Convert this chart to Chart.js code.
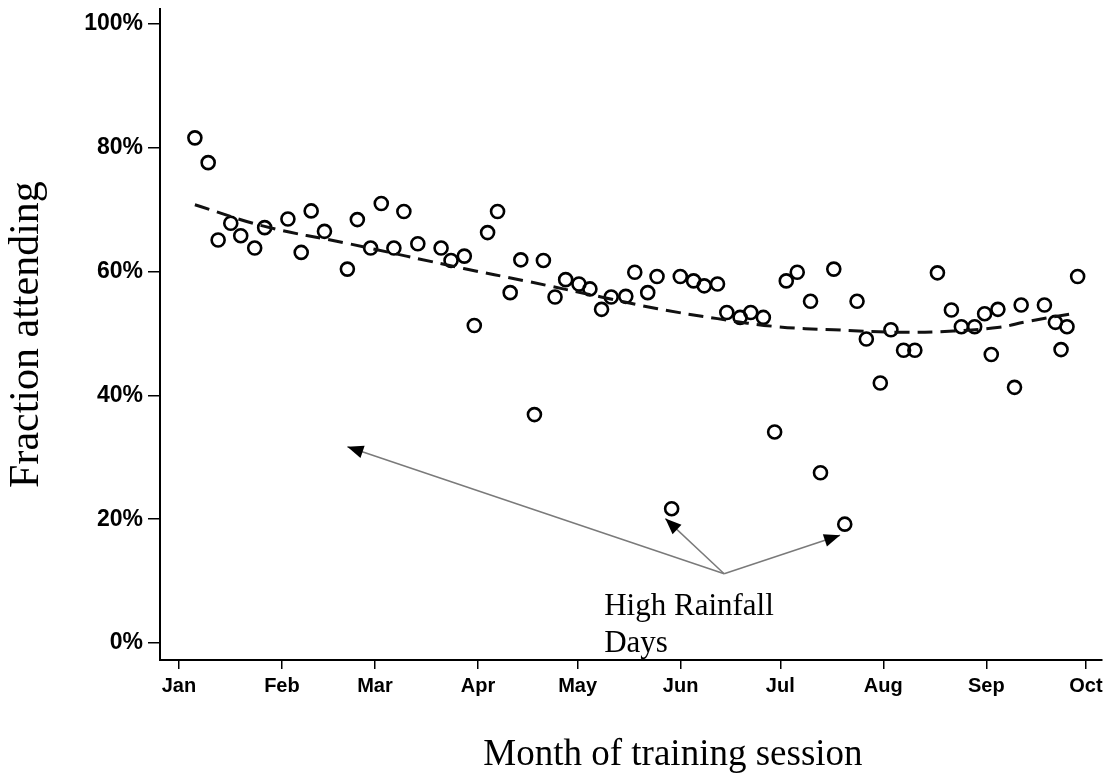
<!DOCTYPE html>
<html>
<head>
<meta charset="utf-8">
<script src="https://cdn.jsdelivr.net/npm/chart.js@4.4.1/dist/chart.umd.min.js"></script>
<style>
    body { margin: 0; background: #fff; }
    #grafico { display: block; }
</style>
</head>
<body>
<canvas id="grafico" width="1111" height="777"></canvas>
<script>
// dia do ano (0 = 1 Jan) de cada sessão e fração de presentes (%)
const sessionDays = [
    4.8, 8.8, 11.8, 15.6, 18.6, 22.8, 25.8, 32.8, 36.8, 39.8,
    43.8, 50.7, 53.7, 57.7, 60.9, 64.7, 67.7, 71.9, 78.9, 81.9,
    85.9, 88.9, 92.9, 95.9, 99.7, 102.9, 107.0, 109.7, 113.2, 116.4,
    120.4, 123.7, 127.2, 130.1, 134.5, 137.2, 141.1, 143.9, 148.3, 150.9,
    154.9, 158.1, 162.1, 164.9, 168.9, 172.1, 175.9, 179.3, 182.8, 186.1,
    190.1, 193.1, 197.1, 200.4, 204.1, 206.9, 211.1, 214.3, 218.1, 221.5,
    228.3, 232.5, 235.5, 239.5, 242.5, 244.5, 246.5, 251.5, 253.5, 260.5,
    263.8, 265.5, 267.3, 270.5
];
const attendancePct = [
    81.6, 77.6, 65.1, 67.8, 65.8, 63.8, 67.1, 68.5, 63.1, 69.8,
    66.5, 60.4, 68.4, 63.8, 71.0, 63.8, 69.7, 64.5, 63.8, 61.8,
    62.5, 51.3, 66.3, 69.7, 56.6, 61.9, 36.9, 61.8, 55.9, 58.7,
    58.0, 57.2, 53.9, 55.9, 56.0, 59.9, 56.6, 59.2, 21.7, 59.2,
    58.5, 57.7, 58.0, 53.4, 52.6, 53.4, 52.6, 34.1, 58.5, 59.9,
    55.2, 27.5, 60.4, 19.2, 55.2, 49.1, 42.0, 50.6, 47.3, 47.3,
    59.8, 53.8, 51.1, 51.1, 53.2, 46.6, 53.9, 41.3, 54.6, 54.6,
    51.8, 47.4, 51.1, 59.2
];

// curva de tendência tracejada
const trendDays = [4.8, 25.8, 51.2, 85.7, 104.2, 127.1, 144.1, 162.1, 180.1, 197.1, 217.0, 233.1, 247.0, 255.0, 270.0];
const trendPct = [70.8, 67.3, 64.5, 60.5, 58.5, 55.9, 54.0, 52.4, 51.1, 50.6, 50.2, 50.4, 51.0, 51.9, 53.3];

const monthStartDays = [0, 31, 59, 90, 120, 151, 181, 212, 243, 273];
const monthLabels = ['Jan', 'Feb', 'Mar', 'Apr', 'May', 'Jun', 'Jul', 'Aug', 'Sep', 'Oct'];
const yTickValues = [0, 20, 40, 60, 80, 100];

// anotação "High Rainfall Days" em unidades dos dados
const rainfallText = ['High Rainfall', 'Days'];
const rainfallTextAt = { x: 128, y: 4.5 };
const arrowFrom = { x: 164.1, y: 11.2 };
const arrowTargets = [
    { x: 50.7, y: 31.7 },
    { x: 146.4, y: 20.1 },
    { x: 199.0, y: 17.4 }
];

const serif = "'Liberation Serif', 'DejaVu Serif', serif";

const anotacaoPlugin = {
    id: 'anotacao',
    afterDraw(chart) {
        const ctx = chart.ctx;
        const xs = chart.scales.x;
        const ys = chart.scales.y;
        const ox = xs.getPixelForValue(arrowFrom.x);
        const oy = ys.getPixelForValue(arrowFrom.y);

        ctx.save();
        arrowTargets.forEach(t => {
            const tx = xs.getPixelForValue(t.x);
            const ty = ys.getPixelForValue(t.y);
            ctx.strokeStyle = '#7a7a7a';
            ctx.lineWidth = 1.5;
            ctx.beginPath();
            ctx.moveTo(ox, oy);
            ctx.lineTo(tx, ty);
            ctx.stroke();

            const ang = Math.atan2(ty - oy, tx - ox);
            const len = 16, half = 6.5;
            ctx.fillStyle = '#000';
            ctx.beginPath();
            ctx.moveTo(tx, ty);
            ctx.lineTo(tx - len * Math.cos(ang) + half * Math.sin(ang), ty - len * Math.sin(ang) - half * Math.cos(ang));
            ctx.lineTo(tx - len * Math.cos(ang) - half * Math.sin(ang), ty - len * Math.sin(ang) + half * Math.cos(ang));
            ctx.closePath();
            ctx.fill();
        });

        ctx.fillStyle = '#000';
        ctx.font = `31px ${serif}`;
        ctx.textAlign = 'left';
        ctx.textBaseline = 'alphabetic';
        const lx = xs.getPixelForValue(rainfallTextAt.x);
        const ly = ys.getPixelForValue(rainfallTextAt.y);
        ctx.fillText(rainfallText[0], lx, ly);
        ctx.fillText(rainfallText[1], lx, ly + 37);

        // título do eixo x, um pouco à direita do centro como no original
        const area = chart.chartArea;
        ctx.font = `37px ${serif}`;
        ctx.textAlign = 'center';
        ctx.fillText('Month of training session', (area.left + area.right) / 2 + 42, 765);
        ctx.restore();
    }
};

function montarGrafico() {
    const ctx = document.getElementById('grafico').getContext('2d');
    new Chart(ctx, {
        type: 'scatter',
        data: {
            datasets: [{
                type: 'line',
                data: trendDays.map((d, i) => ({ x: d, y: trendPct[i] })),
                borderColor: '#111',
                borderWidth: 3,
                borderDash: [15, 8],
                pointRadius: 0,
                tension: 0.4,
                fill: false
            }, {
                data: sessionDays.map((d, i) => ({ x: d, y: attendancePct[i] })),
                pointStyle: 'circle',
                pointRadius: 6.5,
                pointBorderWidth: 2.6,
                pointBorderColor: '#000',
                pointBackgroundColor: 'rgba(0,0,0,0)'
            }]
        },
        options: {
            responsive: false,
            animation: false,
            events: [],
            layout: { padding: { top: 8, right: 5, left: 0, bottom: 0 } },
            plugins: {
                legend: { display: false },
                tooltip: { enabled: false }
            },
            scales: {
                x: {
                    type: 'linear',
                    min: -5.7,
                    max: 277.8,
                    afterBuildTicks: axis => {
                        axis.ticks = monthStartDays.map(v => ({ value: v }));
                    },
                    afterFit: axis => {
                        axis.height = 117;
                        axis.paddingLeft = 0;
                        axis.paddingRight = 0;
                    },
                    ticks: {
                        autoSkip: false,
                        maxRotation: 0,
                        padding: 5,
                        color: '#000',
                        font: { family: "'Liberation Sans', Arial, sans-serif", size: 20, weight: 'bold' },
                        callback: (value, index) => monthLabels[index]
                    },
                    grid: { drawOnChartArea: false, drawTicks: true, tickLength: 9, color: '#000', lineWidth: 1.5 },
                    border: { color: '#000', width: 2 }
                },
                y: {
                    min: -2.74,
                    max: 102.4,
                    afterBuildTicks: axis => {
                        axis.ticks = yTickValues.map(v => ({ value: v }));
                    },
                    afterFit: axis => {
                        axis.width = 160;
                        axis.paddingTop = 0;
                        axis.paddingBottom = 0;
                    },
                    ticks: {
                        padding: 5,
                        color: '#000',
                        font: { family: "'Liberation Sans', Arial, sans-serif", size: 23, weight: 'bold' },
                        callback: value => value + '%'
                    },
                    grid: { drawOnChartArea: false, drawTicks: true, tickLength: 12, color: '#000', lineWidth: 1.5 },
                    border: { color: '#000', width: 2 },
                    title: {
                        display: true,
                        text: 'Fraction attending',
                        color: '#000',
                        font: { family: serif, size: 42 },
                        padding: { top: 2, bottom: 0 }
                    }
                }
            }
        },
        plugins: [anotacaoPlugin]
    });
}

document.addEventListener('DOMContentLoaded', montarGrafico);
</script>
</body>
</html>
